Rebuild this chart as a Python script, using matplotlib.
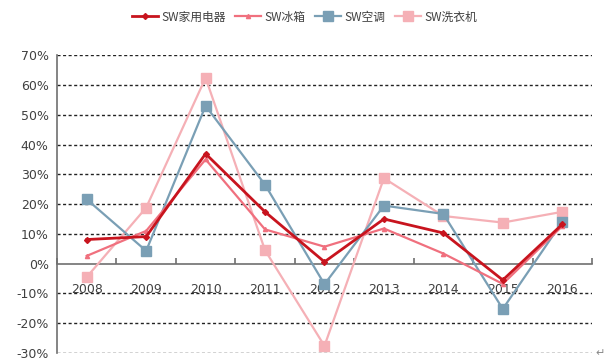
import matplotlib
matplotlib.use("Agg")
import matplotlib.pyplot as plt
import numpy as np

years = ["2008", "2009", "2010", "2011", "2012", "2013", "2014", "2015", "2016"]
appliance = [8.1, 9.1, 36.9, 17.4, 0.6, 15.0, 10.3, -5.5, 13.2]
fridge = [2.6, 11.0, 35.0, 11.5, 5.7, 11.8, 3.4, -6.8, 12.6]
aircon = [21.6, 4.3, 53.0, 26.5, -6.9, 19.5, 16.7, -15.2, 14.0]
washer = [-4.5, 18.8, 62.4, 4.5, -27.6, 28.7, 16.0, 13.8, 17.4]
names = ["SW家用电器", "SW冰箱", "SW空调", "SW洗衣机"]
yticks = [-30, -20, -10, 0, 10, 20, 30, 40, 50, 60, 70]

plt.rcParams['font.family'] = ['Noto Sans CJK SC', 'DejaVu Sans']

fig = plt.figure(figsize=(6.09, 3.63), dpi=100)
ax = fig.add_axes([0.0936, 0.0275, 0.972 - 0.0936, 0.848 - 0.0275])

x = np.arange(len(years))
l4, = ax.plot(x, washer, color="#f5b0b6", lw=1.6, marker="s", ms=7, zorder=3, label=names[3])
l3, = ax.plot(x, aircon, color="#7a9fb5", lw=1.6, marker="s", ms=7, zorder=4, label=names[2])
l2, = ax.plot(x, fridge, color="#f0707e", lw=1.6, marker="^", ms=3, zorder=5, label=names[1])
l1, = ax.plot(x, appliance, color="#c8141e", lw=2.0, marker="D", ms=3, zorder=6, label=names[0])

ax.set_xlim(-0.5, len(years) - 0.5)
ax.set_ylim(-30, 70)
ax.set_yticks(yticks)
ax.set_yticklabels([f"{v}%" for v in yticks], fontsize=9, color="#404040", family="DejaVu Sans")
for v in yticks:
    if v != 0:
        ax.axhline(v, color="#222222", lw=1.0, ls=(0, (2.2, 1.8)), zorder=1)

for s in ["top", "right"]:
    ax.spines[s].set_visible(False)
ax.spines["left"].set_color("#707070")
ax.spines["left"].set_linewidth(1.2)
ax.spines["bottom"].set_position(("data", 0))
ax.spines["bottom"].set_color("#707070")
ax.spines["bottom"].set_linewidth(1.2)
ax.spines["bottom"].set_zorder(2)

ax.set_xticks(x)
ax.set_xticklabels(years, fontsize=9, color="#404040", family="DejaVu Sans")
ax.set_xticks(np.arange(-0.5, len(years), 1.0), minor=True)
ax.tick_params(axis="x", which="major", length=0, pad=14)
ax.tick_params(axis="x", which="minor", direction="in", length=4, color="#707070", width=1.2)
ax.tick_params(axis="y", length=0, pad=6)

fig.legend(handles=[l1, l2, l3, l4], loc="upper center", bbox_to_anchor=(0.5, 1.0),
           ncol=4, frameon=False, fontsize=8.5, handlelength=2.2, columnspacing=0.8,
           handletextpad=0.3, labelcolor="#404040")

fig.text(0.985, 0.02, "↵", fontsize=8, color="#888888", family="DejaVu Sans", ha="center")

fig.savefig("out.png", dpi=100)
